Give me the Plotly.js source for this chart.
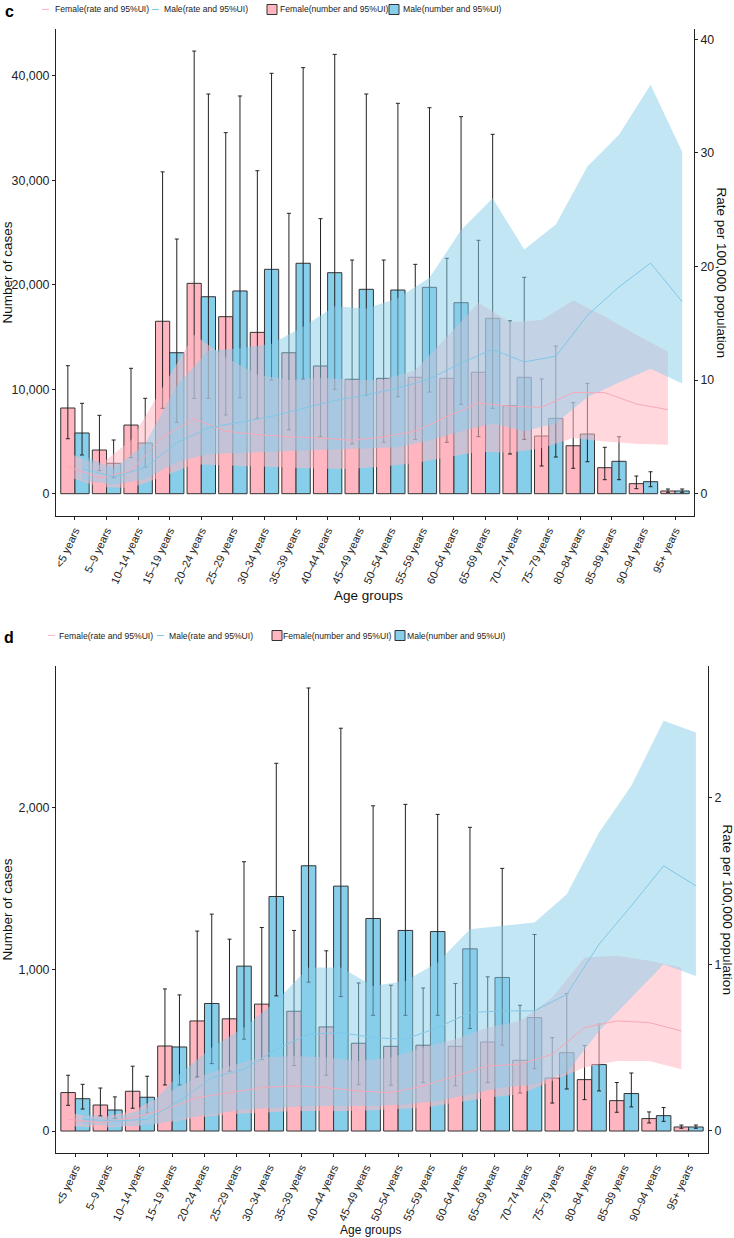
<!DOCTYPE html>
<html>
<head>
<meta charset="utf-8">
<script src="https://cdn.plot.ly/plotly-3.0.1.min.js"></script>
<style>html,body{margin:0;padding:0;background:#fff;}#chart{width:734px;height:1238px;}</style>
</head>
<body>
<div id="chart"></div>
<script>
const ageGroups = ['<5 years','5–9 years','10–14 years','15–19 years','20–24 years','25–29 years','30–34 years','35–39 years','40–44 years','45–49 years','50–54 years','55–59 years','60–64 years','65–69 years','70–74 years','75–79 years','80–84 years','85–89 years','90–94 years','95+ years'];

// Panel c: number of cases
const cFemaleNum   = [8200, 4180, 6570, 16500, 20130, 16940, 15440, 13490, 12220, 10950, 11040, 11140, 11040, 11620, 8420, 5520, 4590, 2490, 960, 260];
const cFemaleNumUp = [12250, 7500, 12000, 30800, 42360, 34550, 30910, 26830, 26320, 22360, 22360, 21950, 22530, 24250, 16550, 10980, 8710, 4440, 1690, 450];
const cFemaleNumLo = [5260, 2200, 3450, 8170, 9130, 7530, 7210, 6100, 5460, 4760, 4920, 5200, 4920, 5460, 3800, 2650, 2430, 1340, 480, 130];
const cMaleNum     = [5810, 2910, 4850, 13490, 18850, 19400, 21470, 22050, 21150, 19560, 19490, 19750, 18280, 16780, 11140, 7210, 5710, 3100, 1150, 260];
const cMaleNumUp   = [8650, 5140, 9130, 24370, 38250, 38060, 40230, 40770, 42040, 38250, 37360, 36940, 36080, 34390, 20710, 14130, 10560, 5450, 2100, 450];
const cMaleNumLo   = [3700, 1530, 2530, 6830, 9130, 9190, 10880, 10950, 9990, 9420, 9280, 9730, 8550, 8170, 5200, 3510, 3060, 1340, 670, 130];
// Panel c: rate per 100,000
const cFemaleRate   = [2.4, 1.4, 2.0, 5.0, 6.6, 5.5, 5.2, 5.0, 4.9, 4.7, 5.0, 5.5, 6.8, 8.0, 7.7, 7.6, 8.9, 8.9, 7.9, 7.4];
const cFemaleRateUp = [3.6, 2.5, 4.7, 9.4, 14.0, 12.0, 10.5, 10.0, 10.2, 10.0, 10.0, 10.9, 13.8, 16.8, 15.1, 15.3, 17.0, 15.6, 14.0, 12.5];
const cFemaleRateLo = [1.5, 0.6, 0.5, 1.5, 2.6, 2.5, 2.4, 2.3, 2.2, 2.2, 2.4, 2.7, 3.2, 3.7, 3.6, 4.0, 4.9, 4.6, 4.4, 4.3];
const cMaleRate     = [2.2, 1.5, 2.3, 4.5, 5.8, 6.3, 6.8, 7.5, 8.2, 8.7, 9.3, 10.1, 11.5, 12.7, 11.6, 12.1, 15.7, 18.2, 20.3, 16.9];
const cMaleRateUp   = [3.4, 2.2, 4.4, 9.5, 12.6, 12.8, 13.2, 14.7, 16.5, 16.3, 17.2, 19.0, 23.2, 26.0, 21.5, 23.7, 28.8, 31.6, 36.0, 30.1];
const cMaleRateLo   = [1.2, 0.8, 1.3, 2.8, 3.5, 3.6, 3.7, 3.8, 3.9, 4.0, 4.1, 4.7, 5.5, 6.2, 5.5, 6.2, 8.5, 9.8, 11.0, 9.7];

// Panel d: number of cases
const dFemaleNum   = [238, 161, 246, 526, 681, 694, 785, 741, 644, 543, 524, 531, 524, 551, 438, 328, 318, 188, 77, 25];
const dFemaleNumUp = [345, 266, 401, 879, 1237, 1187, 1259, 1241, 1115, 916, 902, 885, 913, 954, 778, 578, 529, 300, 118, 37];
const dFemaleNumLo = [159, 93, 141, 285, 334, 370, 442, 405, 345, 287, 283, 300, 279, 300, 235, 173, 194, 116, 50, 17];
const dMaleNum     = [200, 130, 209, 520, 789, 1020, 1451, 1641, 1515, 1315, 1241, 1234, 1127, 950, 702, 485, 411, 232, 95, 25];
const dMaleNumUp   = [289, 211, 339, 842, 1342, 1666, 2275, 2741, 2492, 2012, 2021, 1959, 1879, 1625, 1216, 851, 661, 359, 145, 37];
const dMaleNumLo   = [136, 77, 111, 285, 417, 568, 836, 921, 832, 716, 716, 716, 634, 531, 386, 260, 248, 149, 60, 17];
// Panel d: rate per 100,000
const dFemaleRate   = [0.07, 0.05, 0.08, 0.13, 0.20, 0.23, 0.26, 0.27, 0.26, 0.24, 0.23, 0.27, 0.33, 0.39, 0.40, 0.46, 0.62, 0.66, 0.65, 0.60];
const dFemaleRateUp = [0.11, 0.08, 0.12, 0.22, 0.32, 0.39, 0.44, 0.45, 0.44, 0.42, 0.44, 0.50, 0.55, 0.62, 0.66, 0.80, 1.04, 1.05, 1.02, 0.98];
const dFemaleRateLo = [0.03, 0.02, 0.03, 0.05, 0.08, 0.10, 0.11, 0.12, 0.12, 0.12, 0.13, 0.14, 0.17, 0.20, 0.22, 0.30, 0.38, 0.42, 0.42, 0.37];
const dMaleRate     = [0.07, 0.06, 0.07, 0.18, 0.32, 0.37, 0.49, 0.58, 0.59, 0.56, 0.55, 0.62, 0.71, 0.72, 0.72, 0.82, 1.12, 1.35, 1.59, 1.47];
const dMaleRateUp   = [0.10, 0.08, 0.14, 0.34, 0.50, 0.62, 0.78, 0.98, 0.98, 0.87, 0.90, 1.01, 1.21, 1.23, 1.25, 1.42, 1.79, 2.07, 2.46, 2.39];
const dMaleRateLo   = [0.04, 0.03, 0.03, 0.07, 0.10, 0.13, 0.14, 0.15, 0.15, 0.15, 0.16, 0.18, 0.22, 0.26, 0.28, 0.35, 0.60, 0.80, 1.00, 0.93];

const legendLabels = ['Female(rate and 95%UI)', 'Male(rate and 95%UI)', 'Female(number and 95%UI)', 'Male(number and 95%UI)'];

// ---- styling ----
const W = 734, H = 1238;
const PINK = '#FFB6C1', BLUE = '#87CEEB';
const PINK_FILL = 'rgba(255,182,193,0.55)', BLUE_FILL = 'rgba(135,206,235,0.5)';
const PINK_LINE = '#F7A8B8', BLUE_LINE = '#7FC8E8';
const FONT = 'Liberation Sans, Arial, sans-serif';
const dodge = 0.225;
const idx = ageGroups.map((_, i) => i);
const fx = idx.map(i => i - dodge);
const mx = idx.map(i => i + dodge);
const px = v => v / W;
const py = v => 1 - v / H;

function barTrace(name, vals, up, lo, color, xa, ya) {
  return {
    type: 'bar', name: name, x: idx, y: vals, xaxis: xa, yaxis: ya, showlegend: false,
    marker: {color: color, line: {color: '#333333', width: 1}},
    error_y: {type: 'data', symmetric: false,
      array: vals.map((v, i) => up[i] - v), arrayminus: vals.map((v, i) => v - lo[i]),
      color: '#222222', thickness: 1, width: 2},
    hoverinfo: 'skip'
  };
}
function ribbonTrace(xs, up, lo, fill, xa, ya) {
  return {
    type: 'scatter', mode: 'lines', x: xs.concat(xs.slice().reverse()),
    y: up.concat(lo.slice().reverse()), fill: 'toself', fillcolor: fill,
    line: {width: 0, color: 'rgba(0,0,0,0)'}, xaxis: xa, yaxis: ya, showlegend: false, hoverinfo: 'skip'
  };
}
function lineTrace(name, xs, vals, color, xa, ya) {
  return {type: 'scatter', mode: 'lines', name: name, x: xs, y: vals, showlegend: false,
    line: {color: color, width: 1}, xaxis: xa, yaxis: ya, hoverinfo: 'skip'};
}

const traces = [
  // panel c
  barTrace(legendLabels[2], cFemaleNum, cFemaleNumUp, cFemaleNumLo, PINK, 'x', 'y'),
  barTrace(legendLabels[3], cMaleNum, cMaleNumUp, cMaleNumLo, BLUE, 'x', 'y'),
  ribbonTrace(fx, cFemaleRateUp, cFemaleRateLo, PINK_FILL, 'x', 'y2'),
  ribbonTrace(mx, cMaleRateUp, cMaleRateLo, BLUE_FILL, 'x', 'y2'),
  lineTrace(legendLabels[0], fx, cFemaleRate, PINK_LINE, 'x', 'y2'),
  lineTrace(legendLabels[1], mx, cMaleRate, BLUE_LINE, 'x', 'y2'),
  // panel d
  barTrace(legendLabels[2], dFemaleNum, dFemaleNumUp, dFemaleNumLo, PINK, 'x2', 'y3'),
  barTrace(legendLabels[3], dMaleNum, dMaleNumUp, dMaleNumLo, BLUE, 'x2', 'y3'),
  ribbonTrace(fx, dFemaleRateUp, dFemaleRateLo, PINK_FILL, 'x2', 'y4'),
  ribbonTrace(mx, dMaleRateUp, dMaleRateLo, BLUE_FILL, 'x2', 'y4'),
  lineTrace(legendLabels[0], fx, dFemaleRate, PINK_LINE, 'x2', 'y4'),
  lineTrace(legendLabels[1], mx, dMaleRate, BLUE_LINE, 'x2', 'y4')
];

const tickFont = {family: FONT, size: 12.4, color: '#222'};
function xAxis(domain, anchor) {
  return {domain: domain, anchor: anchor, range: [-0.6, 19.6], tickmode: 'array', tickvals: idx, ticktext: ageGroups,
    tickangle: -65, tickfont: {family: FONT, size: 11, color: '#222'}, ticks: 'outside', ticklen: 3, tickcolor: '#222',
    showline: true, linecolor: '#222', linewidth: 1, showgrid: false, zeroline: false, automargin: false};
}
function yAxis(domain, anchor, range, tv, side, overlay) {
  const a = {domain: domain, anchor: anchor, range: range, tickmode: 'array', tickvals: tv, tickformat: ',d',
    tickfont: tickFont, ticks: 'outside', ticklen: 3, tickcolor: '#222', showline: true, linecolor: '#222', linewidth: 1,
    showgrid: false, zeroline: false, side: side, automargin: false};
  if (overlay) a.overlaying = overlay;
  return a;
}
const cX = [px(56), px(694)], cY = [py(516), py(29)];
const dX = [px(56), px(708)], dY = [py(1153), py(666)];

const annFont = {family: FONT, size: 13.5, color: '#111'};
function ann(text, x, y, angle, font, xanchor) {
  return {text: text, x: px(x), y: py(y), xref: 'paper', yref: 'paper', showarrow: false,
    xanchor: xanchor || 'center', yanchor: 'middle', textangle: angle, font: font};
}

// hand-placed legend keys (ggplot-style compact legend)
const legFont = {family: FONT, size: 8.6, color: '#222'};
function legendParts(yc, pos) {
  const shapes = [
    {type: 'line', xref: 'paper', yref: 'paper', x0: px(pos[0]), x1: px(pos[0] + 7), y0: py(yc), y1: py(yc), line: {color: PINK, width: 1}},
    {type: 'line', xref: 'paper', yref: 'paper', x0: px(pos[2]), x1: px(pos[2] + 7), y0: py(yc), y1: py(yc), line: {color: BLUE_LINE, width: 1}},
    {type: 'rect', xref: 'paper', yref: 'paper', x0: px(pos[4]), x1: px(pos[4] + 10), y0: py(yc + 5), y1: py(yc - 5), fillcolor: PINK, line: {color: '#333', width: 1}},
    {type: 'rect', xref: 'paper', yref: 'paper', x0: px(pos[6]), x1: px(pos[6] + 10), y0: py(yc + 5), y1: py(yc - 5), fillcolor: BLUE, line: {color: '#333', width: 1}}
  ];
  const anns = [
    ann(legendLabels[0], pos[1], yc, 0, legFont, 'left'),
    ann(legendLabels[1], pos[3], yc, 0, legFont, 'left'),
    ann(legendLabels[2], pos[5], yc, 0, legFont, 'left'),
    ann(legendLabels[3], pos[7], yc, 0, legFont, 'left')
  ];
  return {shapes, anns};
}
const legC = legendParts(9.5, [42, 53, 152, 162, 267, 278, 389, 401]);
const legD = legendParts(635.5, [48, 57, 157, 167, 272, 281, 395, 405]);

const layout = {
  width: W, height: H, margin: {l: 0, r: 0, t: 0, b: 0}, paper_bgcolor: '#fff', plot_bgcolor: 'rgba(0,0,0,0)',
  barmode: 'group', bargap: 0.1, bargroupgap: 0, showlegend: false,
  xaxis: xAxis(cX, 'y'),
  yaxis: yAxis(cY, 'x', [-2134, 44470], [0, 10000, 20000, 30000, 40000], 'left'),
  yaxis2: yAxis(cY, 'x', [-1.96, 40.9], [0, 10, 20, 30, 40], 'right', 'y'),
  xaxis2: xAxis(dX, 'y3'),
  yaxis3: yAxis(dY, 'x2', [-136, 2877], [0, 1000, 2000], 'left'),
  yaxis4: yAxis(dY, 'x2', [-0.132, 2.788], [0, 1, 2], 'right', 'y3'),
  shapes: legC.shapes.concat(legD.shapes),
  annotations: [
    ann('<b>c</b>', 9, 11, 0, {family: FONT, size: 16, color: '#000'}),
    ann('<b>d</b>', 9, 637, 0, {family: FONT, size: 16, color: '#000'}),
    ann('Number of cases', 7, 272.5, -90, annFont),
    ann('Rate per 100,000 population', 721, 272.5, 90, annFont),
    ann('Age groups', 368, 595, 0, {family: FONT, size: 13.5, color: '#111'}),
    ann('Number of cases', 7, 909.5, -90, annFont),
    ann('Rate per 100,000 population', 727, 909.5, 90, annFont),
    ann('Age groups', 370, 1230, 0, {family: FONT, size: 12, color: '#111'})
  ].concat(legC.anns, legD.anns)
};

Plotly.newPlot('chart', traces, layout, {displayModeBar: false, staticPlot: true});
</script>
</body>
</html>
